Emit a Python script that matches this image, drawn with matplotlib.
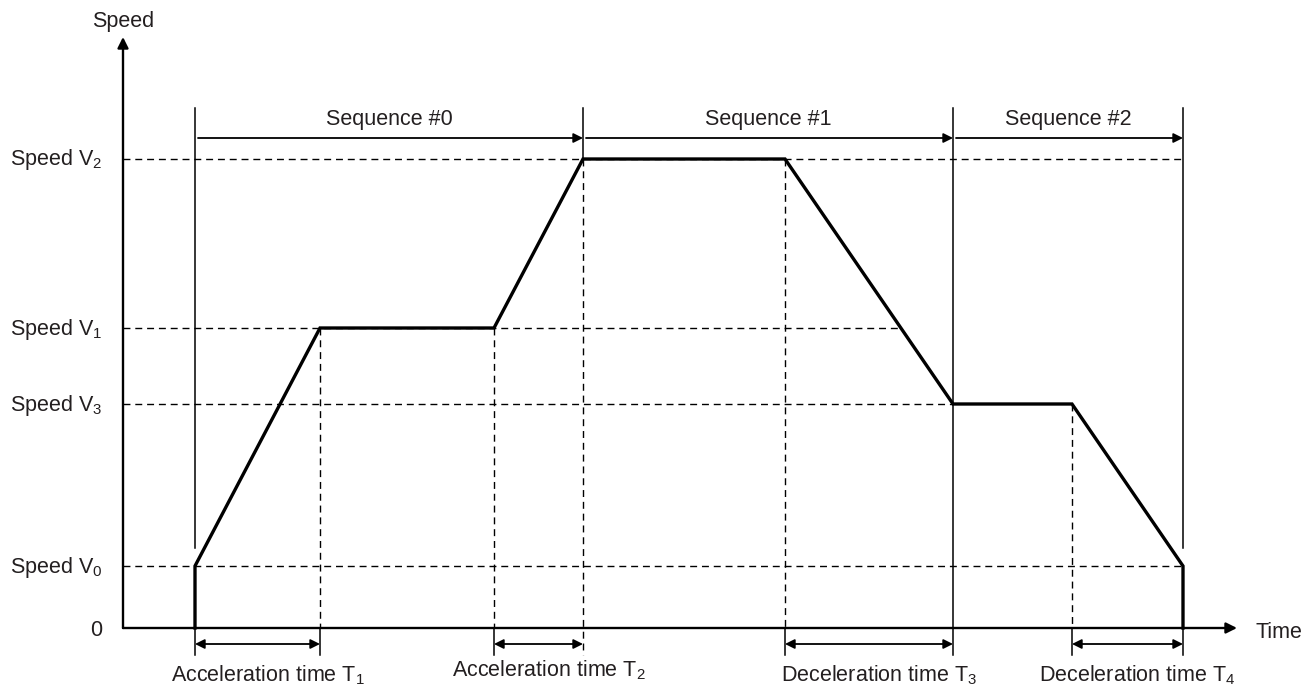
import numpy as np
import matplotlib
matplotlib.use('Agg')
import matplotlib.pyplot as plt

plt.rcParams['font.family'] = ['Liberation Sans', 'DejaVu Sans']
plt.rcParams['mathtext.fontset'] = 'custom'
plt.rcParams['mathtext.rm'] = 'Liberation Sans'
plt.rcParams['mathtext.it'] = 'Liberation Sans:italic'

# time marks t0..t7 and speed levels (arbitrary units)
t = [7.2, 19.7, 37.1, 46.0, 66.2, 83.0, 94.9, 106.0]
V0, V1, V2, V3 = 6.2, 30.0, 46.9, 22.4
speed_names = ['Speed V$_0$', 'Speed V$_1$', 'Speed V$_3$', 'Speed V$_2$']
speed_levels = [V0, V1, V3, V2]
seq_labels = ['Sequence #0', 'Sequence #1', 'Sequence #2']
seq_bounds = [(t[0], t[3]), (t[3], t[5]), (t[5], t[7])]
time_labels = ['Acceleration time T$_1$', 'Acceleration time T$_2$',
               'Deceleration time T$_3$', 'Deceleration time T$_4$']
time_bounds = [(t[0], t[1]), (t[2], t[3]), (t[4], t[5]), (t[6], t[7])]

prof_t = [t[0], t[0], t[1], t[2], t[3], t[4], t[5], t[6], t[7], t[7]]
prof_v = [0, V0, V1, V1, V2, V2, V3, V3, V0, 0]

txt = '#231f20'
fs = 15.5
dash = (0, (5, 3.5))

fig = plt.figure(figsize=(13.03, 6.86), dpi=100)
ax = fig.add_axes([0, 0, 1, 1])
ax.set_xlim(-12.3, 118.0)
ax.set_ylim(-5.8, 62.8)
ax.axis('off')

# axes arrows
arr = dict(arrowstyle='-|>', lw=1.7, color='k', mutation_scale=16, shrinkA=0, shrinkB=0)
ax.annotate('', xy=(0, 59.1), xytext=(0, 0), arrowprops=arr)
ax.annotate('', xy=(111.4, 0), xytext=(0, 0), arrowprops=arr)
ax.text(0, 60.6, 'Speed', ha='center', va='center', fontsize=fs, color=txt)
ax.text(113.3, -0.5, 'Time', ha='left', va='center', fontsize=fs, color=txt)
ax.text(-2.1, -0.2, '0', ha='right', va='center', fontsize=fs, color=txt)

# speed labels
for name, v in zip(speed_names, speed_levels):
    ax.text(-11.3, v - 0.1, name, ha='left', va='center', fontsize=fs, color=txt)

# horizontal dashed guides
v1_end = np.interp(V1, [V3, V2], [t[5], t[4]])
ax.plot([0, t[7]], [V2, V2], color='k', lw=1.0, ls=dash)
ax.plot([0, v1_end], [V1, V1], color='k', lw=1.0, ls=dash)
ax.plot([0, t[5]], [V3, V3], color='k', lw=1.0, ls=dash)
ax.plot([0, t[7]], [V0, V0], color='k', lw=1.0, ls=dash)

# vertical dashed guides
ax.plot([t[1], t[1]], [V1, 0], color='k', lw=1.0, ls=dash)
ax.plot([t[2], t[2]], [V1, 0], color='k', lw=1.0, ls=dash)
ax.plot([t[3], t[3]], [V2, -2.7], color='k', lw=1.0, ls=dash)
ax.plot([t[4], t[4]], [V2, 0], color='k', lw=1.0, ls=dash)
ax.plot([t[6], t[6]], [V3, 0], color='k', lw=1.0, ls=dash)

# solid vertical boundaries
top = 52.0
ax.plot([t[0], t[0]], [top, V0 + 1.8], color='k', lw=1.1)
ax.plot([t[3], t[3]], [top, V2], color='k', lw=1.1)
ax.plot([t[5], t[5]], [top, -2.7], color='k', lw=1.1)
ax.plot([t[7], t[7]], [top, V0 + 1.8], color='k', lw=1.1)
for x in [t[0], t[1], t[2], t[4], t[6], t[7]]:
    ax.plot([x, x], [0, -2.7], color='k', lw=1.1)

# speed profile
ax.plot(prof_t, prof_v, color='k', lw=2.4, solid_joinstyle='miter')

# sequence arrows
sarr = dict(arrowstyle='-|>', lw=1.3, color='k', mutation_scale=14, shrinkA=0, shrinkB=0)
for lab, (a, b) in zip(seq_labels, seq_bounds):
    ax.annotate('', xy=(b, 49.0), xytext=(a + 0.3, 49.0), arrowprops=sarr)
    ax.text((a + b) / 2, 50.8, lab, ha='center', va='center', fontsize=fs, color=txt)

# time interval arrows
darr = dict(arrowstyle='<|-|>', lw=1.3, color='k', mutation_scale=14, shrinkA=0, shrinkB=0)
for i, (lab, (a, b)) in enumerate(zip(time_labels, time_bounds)):
    ax.annotate('', xy=(b, -1.6), xytext=(a, -1.6), arrowprops=darr)
    yl = -4.2 if i == 1 else -4.7
    ax.text((a + b) / 2 + 1.0, yl, lab, ha='center', va='center', fontsize=fs, color=txt)

fig.savefig('out.png', dpi=100)
